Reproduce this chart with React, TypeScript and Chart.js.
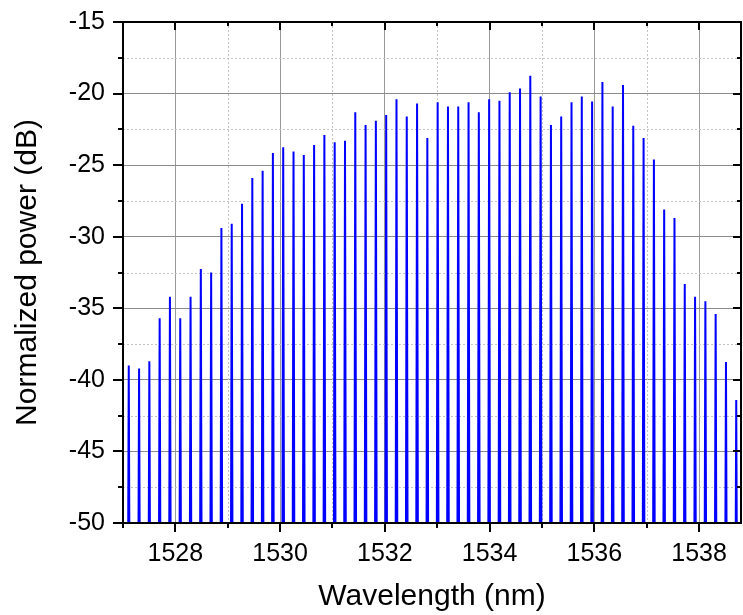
import React, { useEffect, useRef } from "react";
import { Chart, registerables } from "chart.js";

Chart.register(...registerables);

// Comb line wavelengths (nm)
const peakWavelengths = [
  1527.110, 1527.307, 1527.503, 1527.700, 1527.896, 1528.093, 1528.290, 1528.486, 1528.683, 1528.879,
  1529.076, 1529.273, 1529.469, 1529.666, 1529.862, 1530.059, 1530.256, 1530.452, 1530.649, 1530.845,
  1531.042, 1531.239, 1531.435, 1531.632, 1531.828, 1532.025, 1532.222, 1532.418, 1532.615, 1532.811,
  1533.008, 1533.205, 1533.401, 1533.598, 1533.794, 1533.991, 1534.188, 1534.384, 1534.581, 1534.777,
  1534.974, 1535.171, 1535.367, 1535.564, 1535.760, 1535.957, 1536.154, 1536.350, 1536.547, 1536.743,
  1536.940, 1537.137, 1537.333, 1537.530, 1537.726, 1537.923, 1538.120, 1538.316, 1538.513, 1538.709,
];

// Peak power of each comb line (dB)
const peakPowers = [
  -39.0, -39.2, -38.7, -35.7, -34.2, -35.7, -34.2, -32.25, -32.5, -29.4,
  -29.1, -27.7, -25.9, -25.4, -24.15, -23.75, -24.05, -24.3, -23.6, -22.9,
  -23.4, -23.3, -21.3, -22.2, -21.9, -21.5, -20.4, -21.6, -20.7, -23.1,
  -20.6, -20.9, -20.9, -20.6, -21.3, -20.4, -20.5, -19.9, -19.65, -18.75,
  -20.2, -22.2, -21.6, -20.6, -20.2, -20.55, -19.2, -20.9, -19.4, -22.25,
  -23.1, -24.6, -28.1, -28.7, -33.3, -34.2, -34.5, -35.4, -38.75, -41.4,
];

const noiseFloor = -60; // below the visible range
const lineHalfWidth = 0.02; // nm

const xMajorTicks = [1528, 1530, 1532, 1534, 1536, 1538];
const xMinorTicks = [1527, 1529, 1531, 1533, 1535, 1537];
const yMajorTicks = [-50, -45, -40, -35, -30, -25, -20, -15];
const yMinorTicks = [-47.5, -42.5, -37.5, -32.5, -27.5, -22.5, -17.5];

const X_MIN = 1527;
const X_MAX = 1538.8;
const Y_MIN = -50;
const Y_MAX = -15;

const FONT = "'Liberation Sans', Arial, sans-serif";

function buildSpectrum() {
  const pts: { x: number; y: number }[] = [];
  peakWavelengths.forEach((w, i) => {
    pts.push({ x: w - lineHalfWidth, y: noiseFloor });
    pts.push({ x: w, y: peakPowers[i] });
    pts.push({ x: w + lineHalfWidth, y: noiseFloor });
  });
  return pts;
}

const decorPlugin = {
  id: "decor",
  beforeDatasetsDraw(chart: any) {
    const { ctx, chartArea: a, scales } = chart;
    const x = scales.x;
    const y = scales.y;
    ctx.save();
    ctx.strokeStyle = "#c4c4c4";
    ctx.lineWidth = 1;
    ctx.setLineDash([2, 2]);
    xMinorTicks.forEach((v) => {
      const px = Math.round(x.getPixelForValue(v)) + 0.5;
      if (px <= a.left + 2 || px >= a.right - 2) return;
      ctx.beginPath();
      ctx.moveTo(px, a.top);
      ctx.lineTo(px, a.bottom);
      ctx.stroke();
    });
    yMinorTicks.forEach((v) => {
      const py = Math.round(y.getPixelForValue(v)) + 0.5;
      ctx.beginPath();
      ctx.moveTo(a.left, py);
      ctx.lineTo(a.right, py);
      ctx.stroke();
    });
    ctx.restore();
  },
  afterDraw(chart: any) {
    const { ctx, chartArea: a, scales } = chart;
    const x = scales.x;
    const y = scales.y;
    ctx.save();
    ctx.strokeStyle = "#000";
    ctx.lineWidth = 2;
    ctx.setLineDash([]);
    ctx.strokeRect(a.left, a.top, a.right - a.left, a.bottom - a.top);
    const seg = (x1: number, y1: number, x2: number, y2: number) => {
      ctx.beginPath();
      ctx.moveTo(x1, y1);
      ctx.lineTo(x2, y2);
      ctx.stroke();
    };
    xMajorTicks.forEach((v) => {
      const px = Math.round(x.getPixelForValue(v));
      seg(px, a.bottom, px, a.bottom + 9);
      seg(px, a.top, px, a.top + 8);
    });
    xMinorTicks.forEach((v) => {
      const px = Math.round(x.getPixelForValue(v));
      seg(px, a.bottom, px, a.bottom + 5);
      seg(px, a.top, px, a.top + 4);
    });
    yMajorTicks.forEach((v) => {
      const py = Math.round(y.getPixelForValue(v));
      seg(a.left - 10, py, a.left, py);
      seg(a.right, py, a.right - 8, py);
    });
    yMinorTicks.forEach((v) => {
      const py = Math.round(y.getPixelForValue(v));
      seg(a.left - 5, py, a.left, py);
      seg(a.right, py, a.right - 4, py);
    });
    ctx.restore();
  },
};

export default function App() {
  const canvasRef = useRef<HTMLCanvasElement | null>(null);

  useEffect(() => {
    if (!canvasRef.current) return;
    const chart = new Chart(canvasRef.current, {
      type: "line",
      data: {
        datasets: [
          {
            data: buildSpectrum(),
            borderColor: "#0000ff",
            borderWidth: 2,
            pointRadius: 0,
            tension: 0,
            fill: false,
          },
        ],
      },
      options: {
        responsive: false,
        animation: false,
        layout: { padding: { left: 0, top: 22, right: 2, bottom: 0 } },
        plugins: {
          legend: { display: false },
          tooltip: { enabled: false },
        },
        scales: {
          x: {
            type: "linear",
            min: X_MIN,
            max: X_MAX,
            afterBuildTicks: (s: any) => {
              s.ticks = xMajorTicks.map((v) => ({ value: v }));
            },
            afterFit: (s: any) => {
              s.height = 92;
              s.paddingLeft = 0;
              s.paddingRight = 0;
            },
            grid: { color: "#9a9a9a", lineWidth: 1, drawTicks: false },
            border: { display: false },
            ticks: {
              padding: 16,
              color: "#000",
              font: { family: FONT, size: 25 },
              maxRotation: 0,
              callback: (v: any) => String(v),
            },
            title: {
              display: true,
              text: "Wavelength (nm)",
              color: "#000",
              font: { family: FONT, size: 30 },
              padding: { top: 0, bottom: 0 },
            },
          },
          y: {
            type: "linear",
            min: Y_MIN,
            max: Y_MAX,
            afterBuildTicks: (s: any) => {
              s.ticks = yMajorTicks.map((v) => ({ value: v }));
            },
            afterFit: (s: any) => {
              s.width = 123;
              s.paddingTop = 0;
              s.paddingBottom = 0;
            },
            grid: { color: "#8c8c8c", lineWidth: 1, drawTicks: false },
            border: { display: false },
            ticks: {
              padding: 18,
              color: "#000",
              font: { family: FONT, size: 25 },
              callback: (v: any) => String(v),
            },
            title: {
              display: true,
              text: "Normalized power (dB)",
              color: "#000",
              font: { family: FONT, size: 30 },
              padding: { top: 10, bottom: 0 },
            },
          },
        },
      },
      plugins: [decorPlugin],
    } as any);
    return () => chart.destroy();
  }, []);

  return (
    <div style={{ position: "absolute", left: 0, top: 0, width: 743, height: 615, background: "#fff" }}>
      <canvas ref={canvasRef} width={743} height={615} style={{ display: "block" }} />
    </div>
  );
}
